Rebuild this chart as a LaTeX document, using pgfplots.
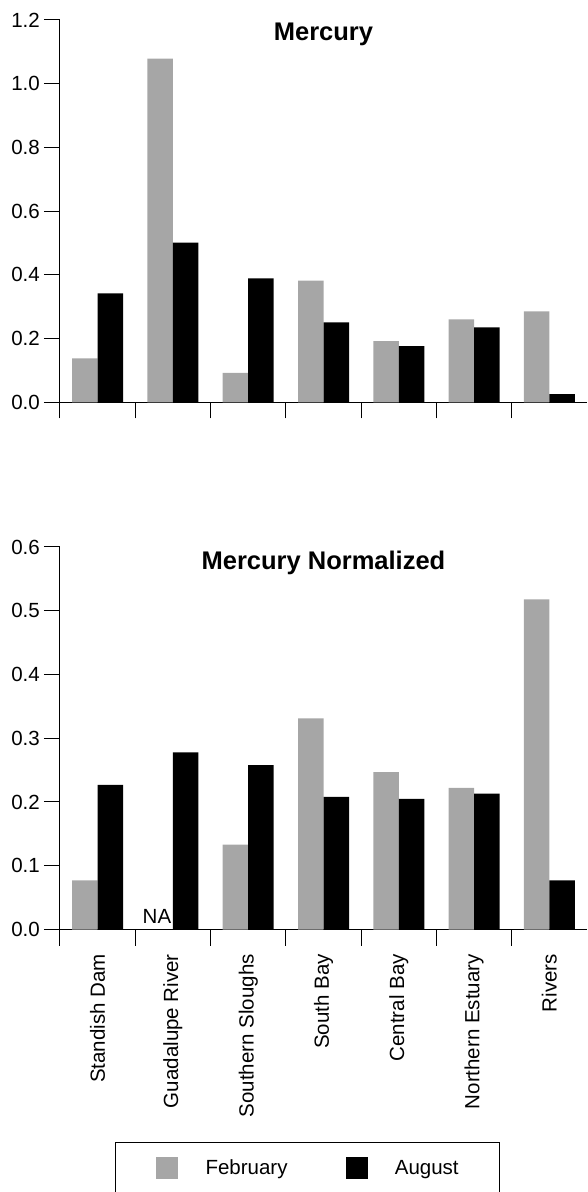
\documentclass[border=0pt]{standalone}
\usepackage{fontspec}
\setmainfont{Liberation Sans}
\usepackage{pgfplots}
\pgfplotsset{compat=1.18}
\definecolor{barGray}{RGB}{166,166,166}
\newcommand{\lbl}{\fontsize{20.5}{24}\selectfont}
\newcommand{\ttl}{\fontsize{25.5}{30}\selectfont\bfseries}
\pgfplotsset{
  mybase/.style={
    scale only axis, width=527pt,
    xmin=0, xmax=7, ymin=0,
    axis lines*=left,
    axis line style={line width=1pt, black},
    every tick/.style={line width=1pt, black},
    tick align=outside, major tick length=16pt, minor tick length=16pt,
    tick label style={font=\lbl},
    /pgf/number format/assume math mode=true,
    yticklabel style={inner sep=0pt, xshift=-4pt, /pgf/number format/.cd, fixed, fixed zerofill, precision=1},
    clip=false,
  },
  febbar/.style={ybar, fill=barGray, draw=none, bar width=25.5pt, bar shift=-12.75pt,
    legend image code/.code={\fill[barGray] (0pt,-11pt) rectangle (22pt,11pt); \path (49.3pt,0pt);}},
  augbar/.style={ybar, fill=black, draw=none, bar width=25.5pt, bar shift=12.75pt,
    legend image code/.code={\fill[black] (0pt,-11pt) rectangle (22pt,11pt); \path (49.3pt,0pt);}},
}
\begin{document}
\begin{tikzpicture}
\useasboundingbox (0,0) rectangle (587pt,1192pt);
% Top: Mercury
\begin{axis}[mybase,
  at={(60pt,789.7pt)}, anchor=south west, height=382.3pt,
  ymax=1.2, ytick={0,0.2,0.4,0.6,0.8,1.0,1.2},
  xtick={0,1,2,3,4,5,6}, xticklabels={},
  title={Mercury}, title style={font=\ttl, at={(0.5,1)}, anchor=base, yshift=-27pt, inner sep=0pt},
]
\addplot[febbar] coordinates {(0.5,0.138) (1.5,1.079) (2.5,0.092) (3.5,0.382) (4.5,0.192) (5.5,0.260) (6.5,0.285)};
\addplot[augbar] coordinates {(0.5,0.342) (1.5,0.501) (2.5,0.389) (3.5,0.251) (4.5,0.176) (5.5,0.235) (6.5,0.026)};
\end{axis}
% Bottom: Mercury Normalized
\begin{axis}[mybase,
  at={(60pt,262.5pt)}, anchor=south west, height=382.5pt,
  ymax=0.6, ytick={0,0.1,0.2,0.3,0.4,0.5,0.6},
  xtick={0.5,1.5,2.5,3.5,4.5,5.5,6.5},
  xticklabels={Standish Dam, Guadalupe River, Southern Sloughs, South Bay, Central Bay, Northern Estuary, Rivers},
  major x tick style={draw=none},
  minor xtick={0,1,2,3,4,5,6},
  xticklabel style={rotate=90, anchor=east, inner sep=0pt},
  xticklabel shift=8.5pt,
  title={Mercury Normalized}, title style={font=\ttl, at={(0.5,1)}, anchor=base, yshift=-28.5pt, inner sep=0pt},
  legend columns=2,
  legend style={at={(0.1044,-0.5548)}, anchor=north west, draw=black, line width=1pt,
    inner xsep=40.7pt, inner ysep=14.5pt, font=\lbl, nodes={inner sep=0pt},
    /tikz/every even column/.append style={column sep=58pt}},
]
\addplot[febbar] coordinates {(0.5,0.077) (2.5,0.133) (3.5,0.331) (4.5,0.247) (5.5,0.222) (6.5,0.518)};
\addlegendentry{February}
\addplot[augbar] coordinates {(0.5,0.227) (1.5,0.278) (2.5,0.258) (3.5,0.208) (4.5,0.205) (5.5,0.213) (6.5,0.077)};
\addlegendentry{August}
\node[font=\lbl, anchor=base, inner sep=0pt] at (axis cs:1.288,0) [yshift=6.2pt] {NA};
\end{axis}
\end{tikzpicture}
\end{document}
